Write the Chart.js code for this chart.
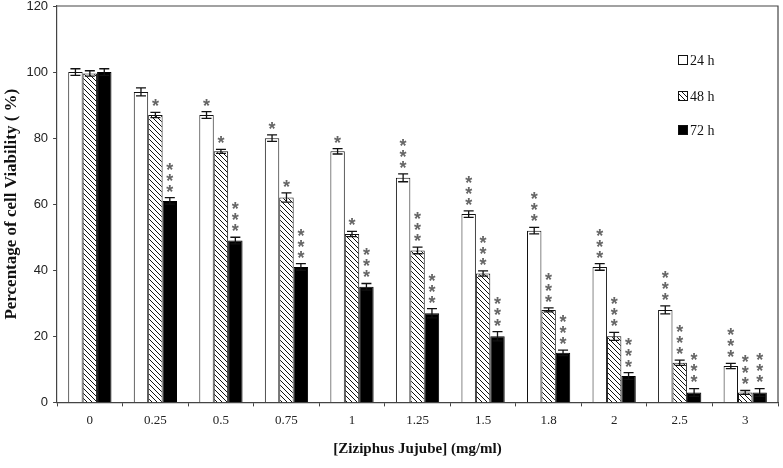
<!DOCTYPE html>
<html>
<head>
<meta charset="utf-8">
<script src="https://cdn.jsdelivr.net/npm/chart.js@4.4.0/dist/chart.umd.min.js"></script>
<style>
  html, body { margin: 0; padding: 0; background: #fff; }
  #wrap { width: 783px; height: 468px; position: relative; }
</style>
</head>
<body>
<div id="wrap"><canvas id="chart"></canvas></div>
<script>
// concentrations (mg/ml)
const doses = ['0', '0.25', '0.5', '0.75', '1', '1.25', '1.5', '1.8', '2', '2.5', '3'];
const seriesNames = ['24 h', '48 h', '72 h'];

// viability values (%)
const v24 = [100, 94, 87, 80, 76, 68, 57, 52, 41, 28, 11];
const v48 = [99.6, 87, 76, 62, 51, 46, 39, 28, 20, 12, 3];
const v72 = [100, 61, 49, 41, 35, 27, 20, 15, 8, 3, 3];

// standard errors
const e24 = [1, 1.2, 1, 1, 0.8, 1.2, 1, 1, 1, 1.2, 0.8];
const e48 = [0.8, 0.8, 0.6, 1.4, 0.8, 1, 0.8, 0.6, 1.2, 0.8, 0.6];
const e72 = [1, 1, 1, 1, 1, 1.4, 1.4, 0.8, 1, 1.2, 1.2];

// significance marks (number of stars)
const s24 = [0, 0, 1, 1, 1, 3, 3, 3, 3, 3, 3];
const s48 = [0, 1, 1, 1, 1, 3, 3, 3, 3, 3, 3];
const s72 = [0, 3, 3, 3, 3, 3, 3, 3, 3, 3, 3];

const yTicks = [0, 20, 40, 60, 80, 100, 120];

function makeHatch() {
    const s = 5;
    const c = document.createElement('canvas');
    c.width = s; c.height = s;
    const g = c.getContext('2d');
    g.fillStyle = '#fff';
    g.fillRect(0, 0, s, s);
    g.strokeStyle = '#111';
    g.lineWidth = 1;
    g.beginPath();
    g.moveTo(-1, -1); g.lineTo(s + 1, s + 1);
    g.moveTo(-1, s - 1); g.lineTo(1, s + 1);
    g.moveTo(s - 1, -1); g.lineTo(s + 1, 1);
    g.stroke();
    return g.createPattern(c, 'repeat');
}

const hatch = makeHatch();
const errs = [e24, e48, e72];
const stars = [s24, s48, s72];

// error bars + asterisks
const extras = {
    id: 'extras',
    afterDatasetsDraw(chart) {
        const ctx = chart.ctx;
        const y = chart.scales.y;
        ctx.save();
        chart.data.datasets.forEach((ds, di) => {
            const meta = chart.getDatasetMeta(di);
            meta.data.forEach((bar, i) => {
                const val = ds.data[i];
                const top = y.getPixelForValue(val + errs[di][i]);
                const bot = y.getPixelForValue(val - errs[di][i]);
                const x = bar.x;
                ctx.strokeStyle = '#111';
                ctx.lineWidth = 1.3;
                ctx.beginPath();
                ctx.moveTo(x, top); ctx.lineTo(x, bot);
                ctx.moveTo(x - 5, top); ctx.lineTo(x + 5, top);
                ctx.moveTo(x - 5, bot); ctx.lineTo(x + 5, bot);
                ctx.stroke();
                const n = stars[di][i];
                ctx.fillStyle = '#666';
                ctx.font = 'bold 18px "Liberation Sans"';
                ctx.textAlign = 'center';
                ctx.textBaseline = 'middle';
                for (let k = 0; k < n; k++) {
                    ctx.fillText('*', x, top - 5 - k * 11);
                }
            });
        });
        ctx.restore();
    }
};

// frame + legend inside plot
const frame = {
    id: 'frame',
    afterDraw(chart) {
        const ctx = chart.ctx;
        const a = chart.chartArea;
        ctx.save();
        ctx.strokeStyle = '#444';
        ctx.lineWidth = 1.2;
        ctx.beginPath();
        ctx.moveTo(a.left, a.top); ctx.lineTo(a.right, a.top); ctx.lineTo(a.right, a.bottom);
        ctx.stroke();
        const rows = [60, 96, 130];
        ctx.font = '14px "Liberation Serif"';
        ctx.textBaseline = 'middle';
        ctx.textAlign = 'left';
        chart.data.datasets.forEach((ds, di) => {
            const bx = 678, by = rows[di] - 5;
            ctx.fillStyle = ds.backgroundColor;
            ctx.fillRect(bx, by, 10, 10);
            ctx.strokeStyle = '#111';
            ctx.lineWidth = 1;
            ctx.strokeRect(bx + 0.5, by + 0.5, 9, 9);
            ctx.fillStyle = '#111';
            ctx.fillText(ds.label, bx + 12, rows[di] + 1);
        });
        ctx.restore();
    }
};

new Chart(document.getElementById('chart'), {
    type: 'bar',
    data: {
        labels: doses,
        datasets: [
            { label: seriesNames[0], data: v24, backgroundColor: '#fff', borderColor: '#111', borderWidth: 1 },
            { label: seriesNames[1], data: v48, backgroundColor: hatch, borderColor: '#111', borderWidth: 1 },
            { label: seriesNames[2], data: v72, backgroundColor: '#000', borderColor: '#000', borderWidth: 1 }
        ]
    },
    options: {
        responsive: true,
        maintainAspectRatio: false,
        animation: false,
        layout: { padding: { top: 6, right: 5, bottom: 6, left: 0 } },
        datasets: { bar: { categoryPercentage: 0.66, barPercentage: 1 } },
        plugins: {
            legend: { display: false },
            tooltip: { enabled: false }
        },
        scales: {
            x: {
                grid: { display: true, drawOnChartArea: false, tickLength: 4, color: '#444' },
                border: { color: '#444', width: 1.2 },
                ticks: { color: '#222', font: { family: 'Liberation Serif', size: 13 }, padding: 6 },
                title: {
                    display: true,
                    text: '[Ziziphus Jujube] (mg/ml)',
                    color: '#111',
                    font: { family: 'Liberation Serif', size: 15, weight: 'bold' },
                    padding: { top: 6 }
                }
            },
            y: {
                min: 0, max: 120,
                afterBuildTicks(axis) { axis.ticks = yTicks.map(v => ({ value: v })); },
                afterFit(axis) { axis.paddingTop = 0; },
                grid: { display: true, drawOnChartArea: false, tickLength: 4, color: '#444' },
                border: { color: '#444', width: 1.2 },
                ticks: { color: '#222', font: { family: 'Liberation Sans', size: 13 }, padding: 5 },
                title: {
                    display: true,
                    text: 'Percentage of cell Viability ( %)',
                    color: '#111',
                    font: { family: 'Liberation Serif', size: 17, weight: 'bold' },
                    padding: { top: 1, bottom: 0 }
                }
            }
        }
    },
    plugins: [extras, frame]
});
</script>
</body>
</html>
